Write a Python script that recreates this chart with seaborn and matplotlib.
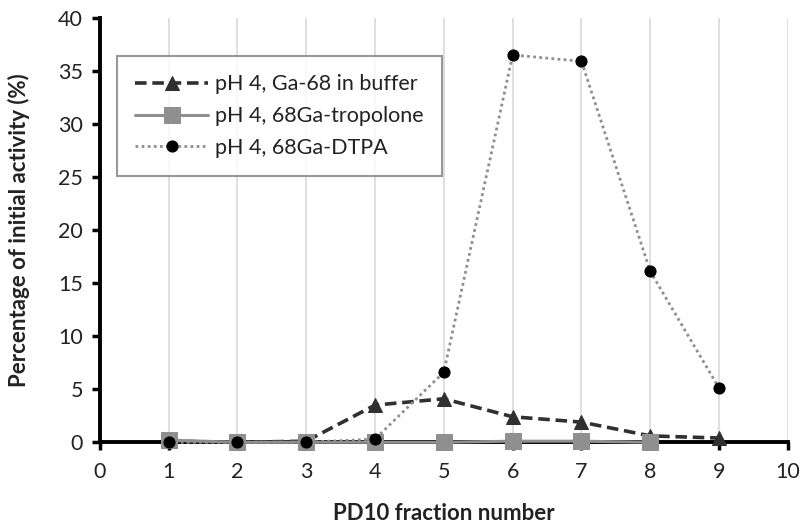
import matplotlib
matplotlib.use("Agg")
import matplotlib.pyplot as plt
import seaborn as sns
import pandas as pd

# Fraction numbers and measured activity (% of initial) per sample
fractions_buffer = [1, 2, 3, 4, 5, 6, 7, 8, 9]
ga_buffer = [0.1, 0.0, 0.1, 3.5, 4.1, 2.4, 1.9, 0.6, 0.4]

fractions_tropolone = [1, 2, 3, 4, 5, 6, 7, 8]
ga_tropolone = [0.2, 0.0, 0.0, 0.0, 0.0, 0.1, 0.1, 0.0]

fractions_dtpa = [1, 2, 3, 4, 5, 6, 7, 8, 9]
ga_dtpa = [0.0, 0.0, 0.0, 0.3, 6.6, 36.5, 35.9, 16.1, 5.1]

labels = ["pH 4, Ga-68 in buffer", "pH 4, 68Ga-tropolone", "pH 4, 68Ga-DTPA"]
x_ticks = list(range(0, 11))
y_ticks = list(range(0, 41, 5))

sns.set_theme(style="white")
plt.rcParams["font.family"] = ["Lato", "DejaVu Sans"]

fig = plt.figure(figsize=(8.04, 5.24), dpi=100)
ax = fig.add_axes([0.124, 0.156, 0.856, 0.810])

df_b = pd.DataFrame({"x": fractions_buffer, "y": ga_buffer})
df_t = pd.DataFrame({"x": fractions_tropolone, "y": ga_tropolone})
df_d = pd.DataFrame({"x": fractions_dtpa, "y": ga_dtpa})

sns.lineplot(data=df_b, x="x", y="y", ax=ax, color="#303030", linewidth=2.6,
             linestyle=(0, (3.2, 1.6)), marker="^", markersize=10,
             markeredgecolor="#303030", markerfacecolor="#303030",
             label=labels[0], clip_on=False, zorder=3)
sns.lineplot(data=df_t, x="x", y="y", ax=ax, color="#8f8f8f", linewidth=2.2,
             linestyle="-", marker="s", markersize=11,
             markeredgecolor="#8f8f8f", markerfacecolor="#8f8f8f",
             label=labels[1], clip_on=False, zorder=4)
sns.lineplot(data=df_d, x="x", y="y", ax=ax, color="#8f8f8f", linewidth=2.0,
             linestyle=(0, (1, 1.2)), marker="o", markersize=8,
             markeredgecolor="#000000", markerfacecolor="#000000",
             label=labels[2], clip_on=False, zorder=5)

ax.set_xlim(0, 10)
ax.set_ylim(0, 40)
ax.set_xticks(x_ticks)
ax.set_yticks(y_ticks)
ax.tick_params(axis="both", labelsize=15.5, colors="#000000", length=6, width=2.5,
               direction="out", left=True, bottom=True)
ax.tick_params(axis="x", pad=8)
ax.tick_params(axis="y", pad=6)
for t in ax.get_xticklabels() + ax.get_yticklabels():
    t.set_color("#222222")

ax.xaxis.grid(True, color="#d9d9d9", linewidth=1.2)
ax.yaxis.grid(False)
ax.set_axisbelow(True)

for side in ["top", "right"]:
    ax.spines[side].set_visible(False)
for side in ["left", "bottom"]:
    ax.spines[side].set_color("#000000")
    ax.spines[side].set_linewidth(2.8)
    ax.spines[side].set_zorder(2.5)

ax.set_xlabel("PD10 fraction number", fontsize=16, fontweight="bold",
              color="#222222", labelpad=15)
ax.set_ylabel("Percentage of initial activity (%)", fontsize=16,
              fontweight="bold", color="#222222", labelpad=20)

leg = ax.legend(loc="upper left", bbox_to_anchor=(0.025, 0.910), borderaxespad=0,
                fontsize=15.5, frameon=True, fancybox=False, handlelength=3.4,
                borderpad=0.85, labelspacing=0.55, handletextpad=0.3)
leg.get_frame().set_edgecolor("#7f7f7f")
leg.get_frame().set_linewidth(1.5)
for t in leg.get_texts():
    t.set_color("#222222")

fig.savefig("out.png", dpi=100)
